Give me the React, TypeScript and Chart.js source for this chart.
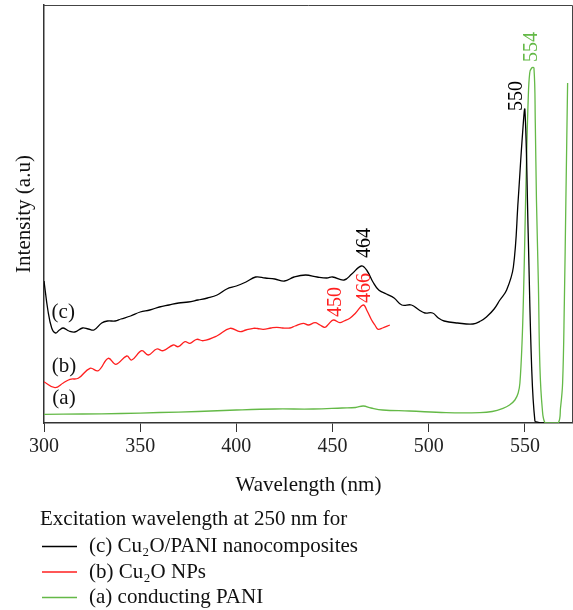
import React, { useEffect, useRef } from 'react';
import { Chart, registerables } from 'chart.js';

Chart.register(...registerables);

const FONT = '"Liberation Serif", "Times New Roman", serif';

// (c) Cu2O/PANI nanocomposites
const cWavelength = [300, 302, 304, 306, 308, 310, 313, 316, 320, 323, 326, 330, 333, 337, 340, 345, 350, 355, 360, 365, 370, 375, 380, 385, 390, 395, 400, 405, 410, 415, 420, 425, 430, 436, 442, 447, 450, 456, 460, 465, 468, 471, 474, 478, 482, 486, 491, 495, 498, 502, 505, 508, 515, 523, 527, 530, 534, 537, 540.5, 544, 546.5, 548.8, 550, 551.7, 553.5, 555.2, 556.5, 558, 560];
const cIntensity = [142, 113, 95, 90, 93, 95, 92, 91, 95, 94, 93, 100, 102, 102, 104, 107, 111, 113, 116, 118, 120, 121, 123, 125, 128, 134, 137, 141, 146, 145, 144, 142, 146, 148, 146, 145, 146, 143, 149, 157, 152, 141, 133, 129, 125, 118, 118, 113, 110, 110, 105, 102, 100, 99, 102, 106, 114, 123, 133, 156, 223, 290, 313, 190, 56, 2, 1, 0, 0];

// (b) Cu2O NPs
const bWavelength = [300, 305.7, 310, 313.5, 317.8, 323.9, 328.2, 333.4, 337.4, 343, 345.6, 350.8, 354.2, 358.6, 362, 367.2, 369.8, 373.3, 375.9, 379.4, 382.8, 389.8, 396.7, 401.9, 405, 408.8, 411, 414, 418, 421, 424, 427.9, 430.5, 434.8, 437.4, 440.9, 443.5, 446, 448, 450.4, 453.8, 456, 459, 462, 466, 468, 470.3, 472, 473.7, 476, 479.8];
const bIntensity = [41.3, 35.3, 40, 43.7, 44.7, 54.7, 52.3, 64.7, 58.7, 67, 63, 72.3, 68, 74, 72.3, 78, 76.3, 81.3, 79.7, 83.7, 82.3, 87, 94.7, 91.3, 93, 94.7, 94.5, 93.7, 95, 95.7, 95, 95, 97, 99.7, 98, 100.3, 98, 95.7, 99, 103, 100.3, 102, 104.7, 110, 118, 112, 103, 98, 93.7, 95, 98];

// (a) conducting PANI
const aWavelength = [300, 320, 340, 360, 380, 400, 420, 440, 455, 462, 466, 470, 476, 490, 509, 526.6, 533, 538.6, 542, 544.8, 546.5, 547.4, 548.5, 549.3, 550, 550.8, 551.7, 552.5, 553.5, 554.7, 555.4, 556, 557, 557.8, 559, 560.4, 563, 567.3, 568.5, 569.6, 570.5, 571.3, 572.2];
const aIntensity = [8.7, 9, 9.5, 10.5, 11.5, 13, 14, 14, 15, 15.5, 17, 15, 13, 12, 10.3, 10.3, 11.5, 14.7, 18, 23, 30, 40, 80, 130, 190, 260, 323, 350, 355, 355, 300, 223, 140, 56, 15, 0.3, 0, 0, 15, 40, 120, 223, 340];

const xTicks = [300, 350, 400, 450, 500, 550];

const seriesNames = ['(c) Cu₂O/PANI nanocomposites', '(b) Cu₂O NPs', '(a) conducting PANI'];
const seriesColors = ['#000000', '#ff1f1f', '#64b947'];
const legendTitle = 'Excitation wavelength at 250 nm for';

// curve tags (c), (b), (a)
const tagText = ['(c)', '(b)', '(a)'];
const tagWavelength = [310, 310.4, 310.4];
const tagIntensity = [111, 57, 25];

// peak labels
const peakText = ['550', '554', '464', '450', '466'];
const peakWavelength = [545.8, 553.5, 466.8, 451.8, 466.8];
const peakIntensity = [327, 376, 180, 121, 135];
const peakSeries = [0, 2, 0, 1, 1];

const toPoints = (xs: number[], ys: number[]) => xs.map((x, i) => ({ x, y: ys[i] }));

const decorations = {
  id: 'decorations',
  afterDatasetsDraw(chart: any) {
    const { ctx, chartArea: a, scales } = chart;
    const xs = scales.x;
    const ys = scales.y;
    ctx.save();
    // frame (top and right)
    ctx.strokeStyle = '#444';
    ctx.lineWidth = 1;
    ctx.beginPath();
    ctx.moveTo(a.left, a.top + 0.5);
    ctx.lineTo(a.right - 0.5, a.top + 0.5);
    ctx.lineTo(a.right - 0.5, a.bottom);
    ctx.stroke();

    // curve tags
    ctx.font = `21px ${FONT}`;
    ctx.fillStyle = '#111';
    ctx.textAlign = 'center';
    ctx.textBaseline = 'middle';
    tagText.forEach((t, i) => {
      ctx.fillText(t, xs.getPixelForValue(tagWavelength[i]), ys.getPixelForValue(tagIntensity[i]));
    });

    // peak labels (rotated)
    ctx.font = `20px ${FONT}`;
    peakText.forEach((t, i) => {
      ctx.save();
      ctx.translate(xs.getPixelForValue(peakWavelength[i]), ys.getPixelForValue(peakIntensity[i]));
      ctx.rotate(-Math.PI / 2);
      ctx.fillStyle = seriesColors[peakSeries[i]];
      ctx.fillText(t, 0, 0);
      ctx.restore();
    });

    // legend
    ctx.font = `21px ${FONT}`;
    ctx.fillStyle = '#111';
    ctx.textAlign = 'left';
    ctx.fillText(legendTitle, 40, 519);
    seriesNames.forEach((name, i) => {
      const yy = 546.5 + i * 25.5;
      ctx.strokeStyle = seriesColors[i];
      ctx.lineWidth = 1.3;
      ctx.beginPath();
      ctx.moveTo(42, yy);
      ctx.lineTo(77, yy);
      ctx.stroke();
      ctx.fillStyle = '#111';
      ctx.fillText(name, 89, yy);
    });
    ctx.restore();
  },
};

export default function App() {
  const ref = useRef<HTMLCanvasElement | null>(null);
  useEffect(() => {
    if (!ref.current) return;
    const series = [
      toPoints(cWavelength, cIntensity),
      toPoints(bWavelength, bIntensity),
      toPoints(aWavelength, aIntensity),
    ];
    const chart = new Chart(ref.current, {
      type: 'line',
      data: {
        datasets: series.map((data, i) => ({
          label: seriesNames[i],
          data,
          borderColor: seriesColors[i],
          borderWidth: 1.3,
          pointRadius: 0,
          fill: false,
          tension: 0.4,
        })),
      },
      options: {
        animation: false,
        responsive: false,
        devicePixelRatio: 1,
        layout: { padding: { left: 0, top: 5, right: 0, bottom: 107 } },
        plugins: { legend: { display: false }, tooltip: { enabled: false } },
        scales: {
          x: {
            type: 'linear',
            min: 300,
            max: 575,
            afterFit: (s: any) => { s.height = 80; },
            afterBuildTicks: (s: any) => { s.ticks = xTicks.map((v) => ({ value: v })); },
            ticks: { color: '#222', font: { family: FONT, size: 20 }, padding: 3, maxRotation: 0 },
            grid: { drawOnChartArea: false, drawTicks: true, tickLength: 9, color: '#333', lineWidth: 1 },
            border: { display: true, color: '#333', width: 1.5 },
            title: { display: true, text: 'Wavelength (nm)', color: '#111', font: { family: FONT, size: 21 }, padding: { top: 0, bottom: 5 } },
          },
          y: {
            type: 'linear',
            min: 0,
            max: 418,
            afterFit: (s: any) => { s.width = 44; },
            ticks: { display: false },
            grid: { display: false },
            border: { display: true, color: '#333', width: 1.5 },
            title: { display: true, text: 'Intensity (a.u)', color: '#111', font: { family: FONT, size: 21 }, padding: { top: 12, bottom: 0 } },
          },
        },
      },
      plugins: [decorations],
    });
    return () => chart.destroy();
  }, []);
  return (
    <div style={{ position: 'fixed', left: 0, top: 0, width: 573, height: 610, background: '#fff' }}>
      <canvas ref={ref} width={573} height={610} style={{ width: 573, height: 610, display: 'block' }} />
    </div>
  );
}
